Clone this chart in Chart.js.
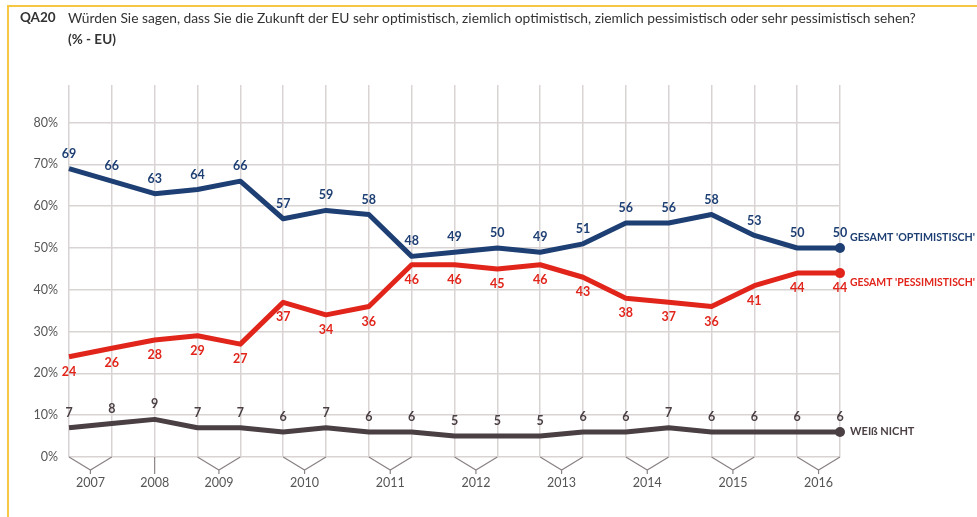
<!DOCTYPE html>
<html>
<head>
<meta charset="utf-8">
<script src="https://cdn.jsdelivr.net/npm/chart.js@4/dist/chart.umd.min.js"></script>
<style>
  body { margin:0; background:#fff; font-family:Lato, "Open Sans", sans-serif; }
  #wrap { position:relative; width:977px; height:517px; overflow:hidden; }
  #chartBox { position:absolute; left:0; top:0; width:977px; height:517px; }
  .rahmenOben { position:absolute; left:7px; top:5px; width:970px; height:2px; background:#f6c744; }
  .rahmenLinks { position:absolute; left:7px; top:5px; width:2px; height:512px; background:#f6c744; }
  .qid { position:absolute; left:20px; top:9px; font-size:13.5px; font-weight:bold; color:#333; }
  .frage { position:absolute; left:68px; top:9px; font-size:13.8px; color:#333; white-space:nowrap; }
  .unter { position:absolute; left:68px; top:31px; font-size:13.5px; font-weight:bold; color:#333; }
</style>
</head>
<body>
<div id="wrap">
  <div id="chartBox"><canvas id="zukunftChart"></canvas></div>
  <div class="rahmenOben"></div>
  <div class="rahmenLinks"></div>
  <div class="qid">QA20</div>
  <div class="frage">Würden Sie sagen, dass Sie die Zukunft der EU sehr optimistisch, ziemlich optimistisch, ziemlich pessimistisch oder sehr pessimistisch sehen?</div>
  <div class="unter">(% - EU)</div>
</div>
<script>
// Erhebungswellen (Jahr-Welle)
const wellen = ["2007-1","2007-2","2008","2009-1","2009-2","2010-1","2010-2","2011-1","2011-2","2012-1","2012-2","2013-1","2013-2","2014-1","2014-2","2015-1","2015-2","2016-1","2016-2"];
const jahre = ["2007","2008","2009","2010","2011","2012","2013","2014","2015","2016"];

const optimistisch  = [69,66,63,64,66,57,59,58,48,49,50,49,51,56,56,58,53,50,50];
const pessimistisch = [24,26,28,29,27,37,34,36,46,46,45,46,43,38,37,36,41,44,44];
const weissNicht    = [7,8,9,7,7,6,7,6,6,5,5,5,6,6,7,6,6,6,6];

const yTicks = [0,10,20,30,40,50,60,70,80];

const serien = [
  {name:"GESAMT 'OPTIMISTISCH'", werte:optimistisch, farbe:"#1d3f73", labelDy:-15, endDy:-11},
  {name:"GESAMT 'PESSIMISTISCH'", werte:pessimistisch, farbe:"#e1251b", labelDy:15, endDy:9},
  {name:"WEIß NICHT", werte:weissNicht, farbe:"#4a3f43", labelDy:-15, endDy:0}
];

const schrift = "Lato, 'Open Sans', sans-serif";

// Werte an den Punkten + Serienname am Ende
const wertePlugin = {
  id:"werte",
  afterDatasetsDraw(chart){
    const ctx = chart.ctx;
    ctx.save();
    ctx.textBaseline = "middle";
    chart.data.datasets.forEach((ds, i) => {
      const s = serien[i];
      const meta = chart.getDatasetMeta(i);
      ctx.fillStyle = s.farbe;
      ctx.textAlign = "center";
      ctx.font = "bold 12.5px " + schrift;
      meta.data.forEach((p, j) => {
        ctx.fillText(String(ds.data[j]), p.x, p.y + s.labelDy);
      });
      const last = meta.data[meta.data.length-1];
      ctx.textAlign = "left";
      ctx.font = "bold 11px " + schrift;
      ctx.fillText(s.name, last.x + 10, last.y + s.endDy, 125);
    });
    ctx.restore();
  }
};

// Klammern unter der x-Achse mit Jahreszahlen
const jahrPlugin = {
  id:"jahre",
  afterDraw(chart){
    const ctx = chart.ctx;
    const xs = chart.scales.x, ys = chart.scales.y;
    const y0 = ys.getPixelForValue(0);
    ctx.save();
    ctx.strokeStyle = "#8a8284";
    ctx.lineWidth = 1.2;
    ctx.fillStyle = "#555";
    ctx.font = "12.5px " + schrift;
    ctx.textAlign = "center";
    ctx.textBaseline = "middle";
    jahre.forEach(jahr => {
      const idx = wellen.map((w, k) => w.startsWith(jahr) ? k : -1).filter(k => k >= 0);
      const xa = xs.getPixelForValue(idx[0]);
      const xb = xs.getPixelForValue(idx[idx.length-1]);
      const xm = (xa + xb) / 2;
      ctx.beginPath();
      if (idx.length > 1) {
        ctx.moveTo(xa, y0);
        ctx.lineTo(xm, y0 + 13);
        ctx.lineTo(xb, y0);
        ctx.moveTo(xm, y0 + 13);
        ctx.lineTo(xm, y0 + 17);
      } else {
        ctx.moveTo(xm, y0);
        ctx.lineTo(xm, y0 + 17);
      }
      ctx.stroke();
      ctx.fillText(jahr, xm, y0 + 26);
    });
    ctx.restore();
  }
};

const letzterPunkt = c => c.dataIndex === c.dataset.data.length - 1 ? 5 : 0;

new Chart(document.getElementById("zukunftChart"), {
  type:"line",
  data:{
    labels:wellen,
    datasets:serien.map(s => ({
      label:s.name,
      data:s.werte,
      borderColor:s.farbe,
      backgroundColor:s.farbe,
      borderWidth:5,
      tension:0,
      pointRadius:letzterPunkt,
      pointHoverRadius:letzterPunkt,
      pointBorderWidth:0,
      borderJoinStyle:"round"
    }))
  },
  options:{
    responsive:true,
    maintainAspectRatio:false,
    animation:false,
    events:[],
    layout:{padding:{left:0, right:137, top:85, bottom:60}},
    plugins:{legend:{display:false}, tooltip:{enabled:false}},
    scales:{
      x:{
        offset:false,
        grid:{color:"#d9d3d3", lineWidth:1.5, drawTicks:false},
        border:{display:false},
        ticks:{display:false},
        afterFit(scale){ scale.height = 0; }
      },
      y:{
        min:0, max:89,
        afterBuildTicks(scale){ scale.ticks = yTicks.map(v => ({value:v})); },
        grid:{color:"#d9d3d3", lineWidth:1.5, drawTicks:false},
        border:{display:false},
        ticks:{callback:v => v + "%", color:"#555", padding:11, font:{size:12.5, family:schrift}},
        afterFit(scale){ scale.width = 69; }
      }
    }
  },
  plugins:[wertePlugin, jahrPlugin]
});
</script>
</body>
</html>
